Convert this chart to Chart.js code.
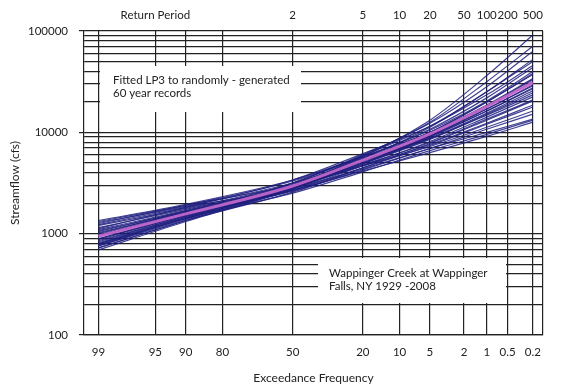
<!DOCTYPE html>
<html>
<head>
<meta charset="utf-8">
<script src="https://cdn.jsdelivr.net/npm/chart.js@4.4.1/dist/chart.umd.min.js"></script>
<style>
body{margin:0;background:#fff;}
</style>
</head>
<body>
<canvas id="freqChart" width="571" height="391"></canvas>
<script>
// ================= DATA =================
// exceedance frequency (%) where each fitted curve was read
const exceedance = [99, 90, 50, 20, 5, 1, 0.2];

// LP3 fit of the observed record (pink)
const observedFit = [944, 1567, 2951, 5309, 9660, 17990, 30900];

// LP3 fits of randomly generated 60 year records (blue), streamflow in cfs
const run01 = [794, 1413, 2884, 5754, 13180, 36310, 91200];
const run02 = [759, 1380, 2951, 5888, 12590, 31620, 70790];
const run03 = [891, 1549, 3162, 6026, 12300, 28180, 63100];
const run04 = [1000, 1660, 3162, 5888, 11480, 25120, 52480];
const run05 = [724, 1349, 2818, 5495, 11220, 25120, 50120];
const run06 = [1122, 1820, 3388, 6166, 11480, 23440, 45710];
const run07 = [832, 1479, 3020, 5623, 10720, 21880, 43650];
const run08 = [1259, 1905, 3311, 5754, 10470, 20420, 39810];
const run09 = [933, 1585, 3020, 5495, 10000, 19950, 38020];
const run10 = [692, 1318, 2754, 5248, 10000, 19950, 37150];
const run11 = [1349, 1950, 3388, 5754, 10000, 18620, 33880];
const run12 = [977, 1622, 2951, 5248, 9550, 18200, 33110];
const run13 = [794, 1445, 2818, 5129, 9333, 17780, 31620];
const run14 = [1096, 1698, 3020, 5248, 9333, 16980, 29510];
const run15 = [851, 1479, 2818, 5012, 9120, 16980, 28840];
const run16 = [1202, 1778, 3090, 5248, 9120, 16220, 27540];
const run17 = [759, 1413, 2754, 4898, 8913, 16220, 26920];
const run18 = [1023, 1622, 2884, 5012, 8710, 15490, 25700];
const run19 = [891, 1514, 2818, 4898, 8511, 15140, 24550];
const run20 = [1288, 1862, 3162, 5248, 8710, 14790, 23440];
const run21 = [813, 1445, 2692, 4677, 8128, 14130, 22390];
const run22 = [1072, 1660, 2884, 4786, 7943, 13490, 20890];
const run23 = [724, 1349, 2570, 4467, 7762, 13180, 20420];
const run24 = [1148, 1738, 2884, 4677, 7586, 12300, 18620];
const run25 = [871, 1514, 2692, 4467, 7413, 12020, 17780];
const run26 = [1318, 1905, 3020, 4677, 7244, 11220, 16220];
const run27 = [955, 1585, 2630, 4266, 6918, 10720, 15140];
const run28 = [1230, 1820, 2818, 4365, 6918, 10000, 13490];
const run29 = [776, 1413, 2512, 4074, 6607, 9550, 13180];
const run30 = [1047, 1660, 2692, 4169, 6310, 9120, 12590];

const simRuns = [run01, run02, run03, run04, run05, run06, run07, run08, run09, run10,
  run11, run12, run13, run14, run15, run16, run17, run18, run19, run20,
  run21, run22, run23, run24, run25, run26, run27, run28, run29, run30];

// axis labels
const freqTicks = [99, 95, 90, 80, 50, 20, 10, 5, 2, 1, 0.5, 0.2];
const returnFreq = [95, 50, 20, 10, 5, 2, 1, 0.5, 0.2];
const returnLabels = ['Return Period', '2', '5', '10', '20', '50', '100', '200', '500'];
const flowTicks = [100, 1000, 10000, 100000];

const noteFitted = ['Fitted LP3 to randomly - generated', '60 year records'];
const noteSite = ['Wappinger Creek at Wappinger', 'Falls, NY 1929 -2008'];


// ================= PROBABILITY SCALE =================
// inverse normal cdf (Acklam), used to place exceedance % on the x axis
function probit(p){
const a=[-39.69683028665376,220.9460984245205,-275.9285104469687,138.3577518672690,-30.66479806614716,2.506628277459239];
const b=[-54.47609879822406,161.5858368580409,-155.6989798598866,66.80131188771972,-13.28068155288572];
const c=[-0.007784894002430293,-0.3223964580411365,-2.400758277161838,-2.549732539343734,4.374664141464968,2.938163982698783];
const d=[0.007784695709041462,0.3224671290700398,2.445134137142996,3.754408661907416];
const pl=0.02425;
if(p<pl){
const q=Math.sqrt(-2*Math.log(p));
return (((((c[0]*q+c[1])*q+c[2])*q+c[3])*q+c[4])*q+c[5])/((((d[0]*q+d[1])*q+d[2])*q+d[3])*q+1);
}
if(p>1-pl){
const q=Math.sqrt(-2*Math.log(1-p));
return -(((((c[0]*q+c[1])*q+c[2])*q+c[3])*q+c[4])*q+c[5])/((((d[0]*q+d[1])*q+d[2])*q+d[3])*q+1);
}
const q=p-0.5, r=q*q;
return (((((a[0]*r+a[1])*r+a[2])*r+a[3])*r+a[4])*r+a[5])*q/(((((b[0]*r+b[1])*r+b[2])*r+b[3])*r+b[4])*r+1);
}

function toZ(exc){
return probit(1 - exc/100);
}

function toPoints(vals){
return vals.map((v,i)=>({x:toZ(exceedance[i]), y:v}));
}


// ================= DATASETS =================
const datasets = [{
label:'Observed LP3',
data:toPoints(observedFit),
borderColor:'rgba(200,105,205,0.9)',
borderWidth:3,
pointRadius:0,
cubicInterpolationMode:'monotone'
}];

simRuns.forEach((r,i)=>{
datasets.push({
label:'Run '+(i+1),
data:toPoints(r),
borderColor:'rgba(32,32,128,0.85)',
borderWidth:1.2,
pointRadius:0,
cubicInterpolationMode:'monotone'
});
});


// ================= TEXT BOXES =================
const notes = {
id:'notes',
afterDraw(chart){
const ctx = chart.ctx;
const boxes = [
{x:100, y:66, w:201, h:46, tx:113, ty:80, lines:noteFitted},
{x:318, y:258, w:188, h:45, tx:329, ty:273, lines:noteSite}
];
ctx.save();
boxes.forEach(b=>{
ctx.fillStyle = '#fff';
ctx.fillRect(b.x, b.y, b.w, b.h);
ctx.fillStyle = '#222';
ctx.font = '11.5px Lato';
ctx.textBaseline = 'middle';
b.lines.forEach((t,i)=>ctx.fillText(t, b.tx, b.ty + i*13));
});
ctx.restore();
}
};


// ================= CHART =================
const font = {family:'Lato', size:11.5};

new Chart(document.getElementById('freqChart'),{
type:'line',
data:{datasets:datasets},
options:{
responsive:false,
animation:false,
layout:{padding:{left:0, right:28, top:0, bottom:0}},
plugins:{
legend:{display:false},
tooltip:{enabled:false}
},
scales:{
x:{
type:'linear',
position:'bottom',
min:-2.5,
max:3.0,
afterBuildTicks:s=>{
s.ticks = freqTicks.map(f=>({value:toZ(f)})).concat([{value:3.0}]);
},
afterFit:s=>{ s.height = 56; },
ticks:{
autoSkip:false,
maxRotation:0,
padding:10,
color:'#222',
font:font,
callback:(v,i)=> i < freqTicks.length ? String(freqTicks[i]) : ''
},
grid:{color:'#222', lineWidth:1.2, drawTicks:false},
border:{color:'#222', width:1.2},
title:{display:true, text:'Exceedance Frequency', color:'#222', font:{family:'Lato', size:12}, padding:{top:4, bottom:6}}
},
xTop:{
type:'linear',
position:'top',
min:-2.5,
max:3.0,
afterBuildTicks:s=>{
s.ticks = returnFreq.map(f=>({value:toZ(f)}));
},
afterFit:s=>{ s.height = 31; },
ticks:{
autoSkip:false,
maxRotation:0,
padding:9,
color:'#222',
font:font,
callback:(v,i)=>returnLabels[i]
},
grid:{display:false, drawTicks:false},
border:{display:false}
},
y:{
type:'logarithmic',
min:100,
max:100000,
afterBuildTicks:s=>{
const t = [];
for(let dec=100; dec<100000; dec*=10){
for(let m=1; m<10; m++) t.push({value:dec*m});
}
t.push({value:100000});
s.ticks = t;
},
afterFit:s=>{ s.width = 84; },
ticks:{
autoSkip:false,
padding:11,
color:'#222',
font:font,
callback:v=> flowTicks.includes(v) ? String(v) : ''
},
grid:{
color:'#222',
lineWidth:1.2,
tickLength:5,
tickColor:c=> (c.tick && flowTicks.includes(c.tick.value)) ? '#222' : 'rgba(0,0,0,0)'
},
border:{color:'#222', width:1.2},
title:{display:true, text:'Streamflow (cfs)', color:'#222', font:{family:'Lato', size:12}, padding:{top:8, bottom:0}}
}
}
},
plugins:[notes]
});
</script>
</body>
</html>
